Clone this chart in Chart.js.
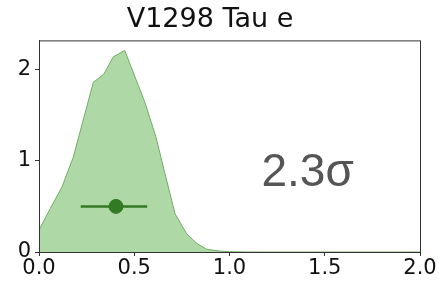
<!DOCTYPE html>
<html>
<head>
<meta charset="utf-8">
<script src="https://cdn.jsdelivr.net/npm/chart.js@4/dist/chart.umd.min.js"></script>
<style>
  html, body { margin: 0; padding: 0; background: #fff; }
  #wrap { width: 439px; height: 282px; }
</style>
</head>
<body>
<div id="wrap"><canvas id="chart" width="439" height="282"></canvas></div>
<script>
// posterior density curve
const densX = [0, 0.06, 0.12, 0.18, 0.23, 0.285, 0.34, 0.39, 0.45, 0.5, 0.556, 0.614, 0.66, 0.714, 0.775, 0.828, 0.88, 0.95, 1.0, 1.1, 1.5, 2.0];
const densY = [0.24, 0.48, 0.71, 1.04, 1.43, 1.86, 1.95, 2.14, 2.21, 1.94, 1.64, 1.26, 0.87, 0.42, 0.20, 0.095, 0.03, 0.01, 0.003, 0, 0, 0];

// point estimate with error bar
const estX = 0.404;
const estY = 0.5;
const errLow = 0.219;
const errHigh = 0.568;

const xTicks = [0, 0.5, 1.0, 1.5, 2.0];
const yTicks = [0, 1, 2];
const titleText = 'V1298 Tau e';
const sigmaText = '2.3σ';

const fontFamily = '"DejaVu Sans", sans-serif';

// box around plot + significance label
const framePlugin = {
    id: 'frame',
    afterDatasetsDraw(chart) {
        const { ctx, chartArea: a, scales } = chart;
        ctx.save();
        ctx.strokeStyle = '#333';
        ctx.lineWidth = 1;
        ctx.strokeRect(a.left + 0.5, a.top + 0.5, a.right - a.left, a.bottom - a.top);
        ctx.fillStyle = '#555';
        ctx.font = '46px "Liberation Sans", Arial, sans-serif';
        ctx.textAlign = 'center';
        ctx.textBaseline = 'middle';
        ctx.fillText(sigmaText, scales.x.getPixelForValue(1.41), scales.y.getPixelForValue(0.86));
        ctx.restore();
    }
};

const ctx = document.getElementById('chart').getContext('2d');
new Chart(ctx, {
    type: 'scatter',
    data: {
        datasets: [
            {
                data: [{ x: estX, y: estY }],
                backgroundColor: '#337a24',
                borderColor: '#337a24',
                pointRadius: 7
            },
            {
                data: [{ x: errLow, y: estY }, { x: errHigh, y: estY }],
                showLine: true,
                borderColor: '#337a24',
                borderWidth: 2.5,
                pointRadius: 0
            },
            {
                // drawn first, sits underneath
                data: densX.map((x, i) => ({ x: x, y: densY[i] })),
                showLine: true,
                fill: 'origin',
                backgroundColor: 'rgba(120, 190, 105, 0.6)',
                borderColor: '#72ad66',
                borderWidth: 1,
                pointRadius: 0,
                tension: 0
            }
        ]
    },
    options: {
        responsive: false,
        animation: false,
        layout: { padding: { top: 0, right: 19, bottom: 0, left: 0 } },
        plugins: {
            legend: { display: false },
            tooltip: { enabled: false },
            title: {
                display: true,
                text: titleText,
                color: '#111',
                font: { family: fontFamily, size: 27, weight: 'normal' },
                padding: { top: 4, bottom: 4 }
            }
        },
        scales: {
            x: {
                type: 'linear',
                min: 0,
                max: 2,
                afterBuildTicks: s => { s.ticks = xTicks.map(v => ({ value: v })); },
                afterFit: s => { s.height = 30; },
                ticks: {
                    color: '#111',
                    font: { family: fontFamily, size: 21 },
                    padding: 0,
                    maxRotation: 0,
                    callback: v => v.toFixed(1)
                },
                grid: { drawOnChartArea: false, tickLength: 4, color: '#333' },
                border: { color: '#333' }
            },
            y: {
                type: 'linear',
                min: 0,
                max: 2.32,
                afterBuildTicks: s => { s.ticks = yTicks.map(v => ({ value: v })); },
                afterFit: s => { s.width = 39; },
                ticks: {
                    color: '#111',
                    font: { family: fontFamily, size: 21 },
                    padding: 4
                },
                grid: { drawOnChartArea: false, tickLength: 4, color: '#333' },
                border: { color: '#333' }
            }
        }
    },
    plugins: [framePlugin]
});
</script>
</body>
</html>
